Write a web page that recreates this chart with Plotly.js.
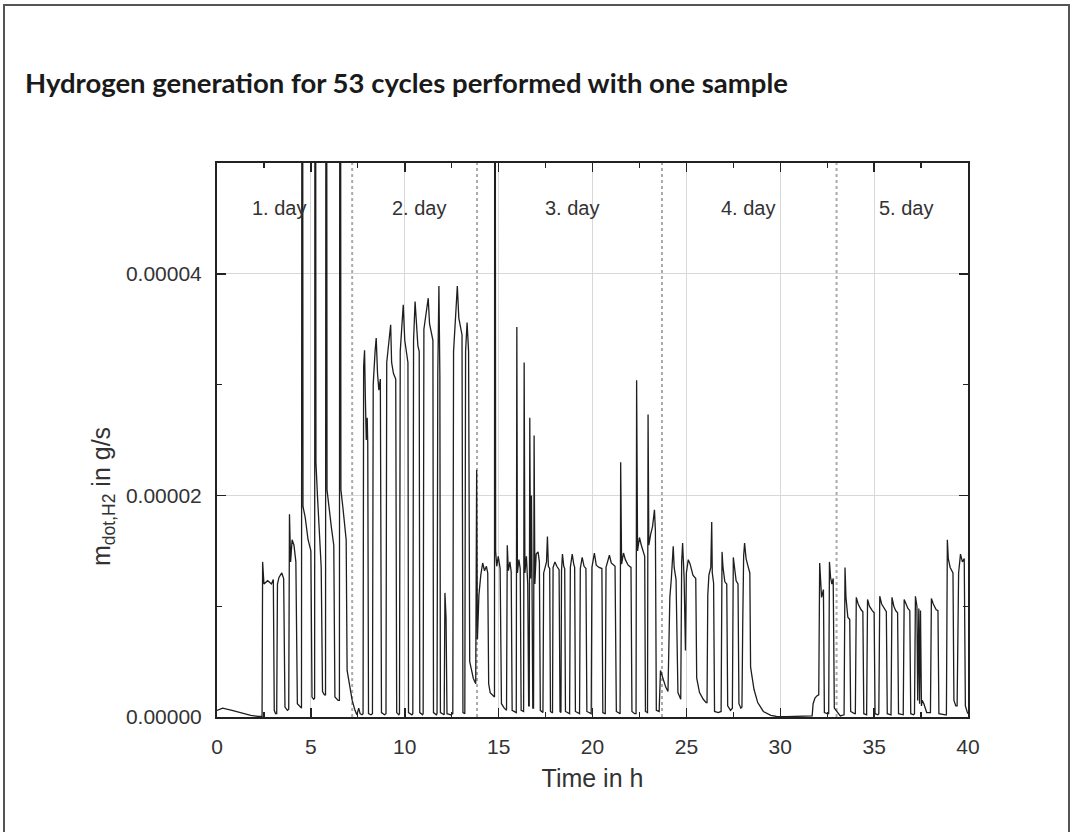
<!DOCTYPE html>
<html>
<head>
<meta charset="utf-8">
<script src="https://cdn.plot.ly/plotly-3.0.1.min.js"></script>
<style>
html,body{margin:0;padding:0;background:#fff;overflow:hidden;width:1071px;height:832px;}
#chart{position:absolute;left:0;top:0;width:1071px;height:832px;}
#frame{position:absolute;left:3px;top:4px;width:1067px;height:840px;border:2px solid #555;box-sizing:border-box;pointer-events:none;z-index:10;}
</style>
</head>
<body>
<div id="chart"></div>
<div id="frame"></div>
<script>
// Time in h and hydrogen rate in g/s, grouped by day
const day1Time = [0, 0.3, 0.8, 1.3, 1.8, 2.2, 2.4,
  2.43, 2.5, 2.7, 2.9, 3.0, 3.05, 3.12,
  3.18, 3.22, 3.3, 3.45, 3.55, 3.62, 3.75,
  3.82, 3.86, 3.92, 4.0, 4.1, 4.2, 4.28, 4.45,
  4.5, 4.54, 4.58, 4.7, 4.85, 5.0, 5.06, 5.15,
  5.2, 5.23, 5.27, 5.35, 5.45, 5.55, 5.62, 5.72,
  5.78, 5.82, 5.86, 5.95, 6.1, 6.22, 6.28, 6.45,
  6.52, 6.56, 6.6, 6.7, 6.8, 6.88, 6.93, 7.05, 7.2, 7.35, 7.45];
const day1Rate = [0.6e-6, 0.8e-6, 0.6e-6, 0.35e-6, 0.15e-6, 0.05e-6, 0.05e-6,
  14.0e-6, 12.0e-6, 12.3e-6, 12.0e-6, 12.4e-6, 0.6e-6, 0.3e-6,
  0.3e-6, 12.0e-6, 12.6e-6, 13.0e-6, 12.5e-6, 0.9e-6, 0.6e-6,
  0.7e-6, 18.3e-6, 14.0e-6, 16.0e-6, 15.5e-6, 14.0e-6, 1.2e-6, 0.9e-6,
  0.8e-6, 120e-6, 19.0e-6, 18.0e-6, 16.0e-6, 15.0e-6, 1.8e-6, 1.6e-6,
  1.7e-6, 120e-6, 23.0e-6, 20.0e-6, 17.0e-6, 13.5e-6, 2.3e-6, 2.0e-6,
  2.0e-6, 120e-6, 20.5e-6, 19.0e-6, 17.0e-6, 15.5e-6, 1.8e-6, 1.5e-6,
  1.5e-6, 120e-6, 20.5e-6, 19.0e-6, 17.5e-6, 16.0e-6, 4.2e-6, 2.8e-6, 1.5e-6, 0.6e-6, 0.2e-6];

const day2Time = [7.55, 7.62, 7.72,
  7.78, 7.81, 7.86, 7.9, 7.95, 8.0, 8.03, 8.07, 8.2,
  8.28, 8.32, 8.42, 8.48, 8.55, 8.62, 8.7, 8.76, 8.92,
  9.0, 9.04, 9.15, 9.25, 9.3, 9.4, 9.52, 9.57, 9.68,
  9.72, 9.76, 9.85, 9.92, 10.0, 10.1, 10.17, 10.2, 10.38,
  10.43, 10.47, 10.55, 10.62, 10.7, 10.77, 10.8, 10.95,
  10.98, 11.02, 11.15, 11.25, 11.32, 11.42, 11.5, 11.53, 11.68,
  11.72, 11.76, 11.82, 11.87, 11.9, 12.05,
  12.1, 12.14, 12.2, 12.25, 12.45,
  12.56, 12.6, 12.72, 12.8, 12.88, 12.95, 13.05, 13.1, 13.17,
  13.2, 13.24, 13.32, 13.4, 13.46, 13.55, 13.65, 13.78];
const day2Rate = [0.8e-6, 0.3e-6, 0.2e-6,
  0.3e-6, 31.6e-6, 33.1e-6, 29.0e-6, 25.0e-6, 27.0e-6, 24.7e-6, 0.3e-6, 0.2e-6,
  0.3e-6, 30.0e-6, 33.0e-6, 34.2e-6, 31.0e-6, 29.5e-6, 30.5e-6, 0.4e-6, 0.2e-6,
  0.3e-6, 32.0e-6, 34.0e-6, 35.4e-6, 32.0e-6, 31.0e-6, 30.5e-6, 0.4e-6, 0.2e-6,
  0.3e-6, 33.0e-6, 35.5e-6, 37.2e-6, 34.0e-6, 32.5e-6, 32.0e-6, 0.4e-6, 0.2e-6,
  0.3e-6, 34.0e-6, 37.5e-6, 35.0e-6, 33.5e-6, 33.0e-6, 0.4e-6, 0.2e-6,
  0.3e-6, 35.0e-6, 36.5e-6, 37.8e-6, 35.5e-6, 34.7e-6, 34.0e-6, 0.4e-6, 0.2e-6,
  0.3e-6, 31.0e-6, 38.9e-6, 30.8e-6, 0.4e-6, 0.2e-6,
  0.2e-6, 11.2e-6, 9.0e-6, 0.3e-6, 0.2e-6,
  0.3e-6, 33.0e-6, 36.5e-6, 38.9e-6, 36.0e-6, 35.2e-6, 34.5e-6, 0.4e-6, 0.3e-6,
  0.3e-6, 33.0e-6, 35.6e-6, 33.0e-6, 5.0e-6, 4.3e-6, 3.5e-6, 3.0e-6];

const day3Time = [13.83, 13.87, 13.95, 14.05, 14.15, 14.25, 14.35, 14.42, 14.47, 14.55, 14.7, 14.78,
  14.8, 14.84, 14.9, 14.98, 15.08, 15.15, 15.3,
  15.42, 15.46, 15.52, 15.6, 15.67, 15.72, 15.88,
  15.94, 15.97, 16.0, 16.08, 16.15, 16.2, 16.3,
  16.33, 16.36, 16.4, 16.48, 16.55, 16.6,
  16.63, 16.66, 16.7, 16.75, 16.78, 16.82,
  16.86, 16.89, 16.93, 17.0, 17.1, 17.17, 17.22, 17.32,
  17.36, 17.4, 17.55, 17.6, 17.65, 17.72, 17.76, 17.84,
  17.87, 17.9, 18.0, 18.1, 18.22, 18.27,
  18.32, 18.35, 18.4, 18.47, 18.52, 18.56, 18.72,
  18.78, 18.82, 18.92, 19.0, 19.05, 19.09, 19.25,
  19.31, 19.35, 19.45, 19.55, 19.65, 19.7, 19.88,
  19.93, 19.97, 20.1, 20.2, 20.35, 20.5, 20.55, 20.65,
  20.68, 20.72, 20.9, 21.0, 21.2, 21.27, 21.42,
  21.47, 21.5, 21.55, 21.65, 21.75, 21.9, 22.05, 22.1, 22.25,
  22.32, 22.35, 22.4, 22.5, 22.6, 22.7, 22.78, 22.82, 22.9,
  22.93, 22.96, 23.0, 23.1, 23.2, 23.3, 23.35, 23.4, 23.55];
const day3Rate = [22.3e-6, 7.0e-6, 11.0e-6, 12.8e-6, 13.9e-6, 13.2e-6, 13.6e-6, 13.0e-6, 3.0e-6, 2.2e-6, 1.9e-6, 1.8e-6,
  120e-6, 15.0e-6, 13.6e-6, 14.5e-6, 13.4e-6, 1.2e-6, 0.8e-6,
  0.6e-6, 15.5e-6, 13.2e-6, 14.0e-6, 13.1e-6, 0.6e-6, 0.4e-6,
  0.4e-6, 35.2e-6, 13.0e-6, 14.2e-6, 13.4e-6, 0.6e-6, 0.5e-6,
  0.5e-6, 32.0e-6, 13.0e-6, 14.5e-6, 12.0e-6, 1.0e-6,
  1.0e-6, 27.0e-6, 12.5e-6, 20.0e-6, 11.5e-6, 0.8e-6,
  0.8e-6, 25.4e-6, 12.0e-6, 14.7e-6, 14.9e-6, 14.0e-6, 0.6e-6, 0.4e-6,
  0.4e-6, 13.0e-6, 14.0e-6, 16.3e-6, 13.6e-6, 13.4e-6, 0.5e-6, 0.4e-6,
  0.4e-6, 13.5e-6, 14.0e-6, 13.6e-6, 13.3e-6, 0.5e-6,
  0.4e-6, 13.2e-6, 14.7e-6, 13.6e-6, 13.4e-6, 0.5e-6, 0.3e-6,
  0.3e-6, 13.5e-6, 14.7e-6, 13.8e-6, 13.5e-6, 0.5e-6, 0.3e-6,
  0.3e-6, 13.4e-6, 14.4e-6, 13.6e-6, 13.4e-6, 0.5e-6, 0.3e-6,
  0.3e-6, 13.5e-6, 14.8e-6, 13.7e-6, 13.5e-6, 13.4e-6, 0.4e-6, 0.3e-6,
  0.3e-6, 13.5e-6, 14.6e-6, 13.9e-6, 13.6e-6, 0.5e-6, 0.3e-6,
  0.3e-6, 23.0e-6, 13.8e-6, 14.8e-6, 14.2e-6, 13.7e-6, 13.5e-6, 0.5e-6, 0.3e-6,
  0.3e-6, 30.4e-6, 15.0e-6, 16.2e-6, 15.5e-6, 14.8e-6, 14.5e-6, 0.5e-6, 0.4e-6,
  0.4e-6, 27.3e-6, 15.5e-6, 16.5e-6, 17.2e-6, 18.7e-6, 16.8e-6, 0.6e-6, 0.5e-6];

const day4Time = [23.62, 23.75, 23.9, 24.02, 24.05, 24.12, 24.2, 24.3, 24.35, 24.45, 24.55, 24.65,
  24.7, 24.75, 24.8, 24.88, 24.95, 25.0, 25.1, 25.2, 25.35, 25.5, 25.55, 25.7, 25.9, 26.05,
  26.1, 26.14, 26.2, 26.3, 26.35, 26.38, 26.45, 26.5, 26.7,
  26.85, 26.9, 26.95, 27.05, 27.15, 27.2, 27.35,
  27.45, 27.5, 27.55, 27.65, 27.75, 27.8, 27.9,
  27.96, 28.0, 28.05, 28.1, 28.18, 28.3, 28.38, 28.42, 28.6, 28.8, 29.1, 29.5, 29.8, 30.3, 30.8, 31.3, 31.7];
const day4Rate = [4.2e-6, 3.5e-6, 2.7e-6, 2.3e-6, 6.0e-6, 10.8e-6, 12.5e-6, 15.4e-6, 13.5e-6, 12.4e-6, 2.2e-6, 1.8e-6,
  1.6e-6, 14.0e-6, 15.7e-6, 12.5e-6, 6.0e-6, 13.0e-6, 14.2e-6, 13.8e-6, 12.8e-6, 12.5e-6, 3.5e-6, 2.2e-6, 1.6e-6, 1.3e-6,
  1.3e-6, 11.0e-6, 12.8e-6, 13.5e-6, 17.6e-6, 13.0e-6, 12.1e-6, 0.5e-6, 0.4e-6,
  0.5e-6, 14.9e-6, 13.5e-6, 12.2e-6, 12.0e-6, 1.0e-6, 0.6e-6,
  0.8e-6, 14.4e-6, 13.5e-6, 12.3e-6, 12.0e-6, 1.2e-6, 0.8e-6,
  0.9e-6, 8.1e-6, 14.5e-6, 15.7e-6, 14.3e-6, 13.5e-6, 13.0e-6, 4.5e-6, 2.5e-6, 1.3e-6, 0.5e-6, 0.15e-6, 0.05e-6, 0.03e-6, 0.05e-6, 0.03e-6, 0.1e-6];

const day5Time = [31.75, 31.85, 31.95, 32.05, 32.1, 32.15, 32.2, 32.3, 32.35, 32.5,
  32.58, 32.62, 32.68, 32.75, 32.82, 32.88, 33.0, 33.2,
  33.4, 33.45, 33.5, 33.6, 33.7, 33.75, 33.95,
  34.0, 34.05, 34.15, 34.3, 34.4, 34.45, 34.55,
  34.6, 34.65, 34.75, 34.9, 35.0, 35.05, 35.2,
  35.25, 35.3, 35.4, 35.55, 35.65, 35.7, 35.85,
  35.9, 35.95, 36.05, 36.15, 36.25, 36.3, 36.5,
  36.55, 36.6, 36.7, 36.8, 36.9, 36.95, 37.1,
  37.15, 37.2, 37.28, 37.32, 37.38, 37.42, 37.47, 37.52, 37.56, 37.65, 37.8,
  38.0, 38.05, 38.15, 38.3, 38.4, 38.45, 38.8,
  38.85, 38.9, 38.95, 39.05, 39.2, 39.25, 39.35,
  39.42, 39.5, 39.6, 39.7, 39.8, 39.86, 39.95, 40.0];
const day5Rate = [1.2e-6, 1.7e-6, 1.9e-6, 2.0e-6, 13.9e-6, 12.0e-6, 10.8e-6, 11.5e-6, 0.4e-6, 0.3e-6,
  0.3e-6, 14.0e-6, 12.6e-6, 12.0e-6, 12.5e-6, 0.8e-6, 0.5e-6, 0.1e-6,
  0.2e-6, 13.5e-6, 10.8e-6, 9.0e-6, 8.8e-6, 0.5e-6, 0.3e-6,
  0.3e-6, 10.8e-6, 10.2e-6, 9.7e-6, 9.5e-6, 0.3e-6, 0.2e-6,
  0.2e-6, 10.6e-6, 10.0e-6, 9.6e-6, 9.4e-6, 0.3e-6, 0.2e-6,
  0.3e-6, 10.9e-6, 10.2e-6, 9.7e-6, 9.5e-6, 0.3e-6, 0.2e-6,
  0.2e-6, 10.8e-6, 10.0e-6, 9.6e-6, 9.4e-6, 0.3e-6, 0.2e-6,
  0.2e-6, 10.6e-6, 10.1e-6, 9.8e-6, 9.6e-6, 0.3e-6, 0.2e-6,
  0.3e-6, 10.9e-6, 10.0e-6, 1.5e-6, 9.8e-6, 1.2e-6, 9.6e-6, 1.0e-6, 1.5e-6, 1.2e-6, 0.4e-6,
  0.4e-6, 10.7e-6, 10.2e-6, 9.7e-6, 9.6e-6, 0.3e-6, 0.2e-6,
  0.2e-6, 16.0e-6, 14.3e-6, 13.5e-6, 13.0e-6, 1.5e-6, 1.0e-6,
  1.0e-6, 13.0e-6, 14.7e-6, 14.0e-6, 14.3e-6, 1.0e-6, 0.5e-6, 0.3e-6];

// Day separators and labels
const dayBounds = [7.2, 13.85, 23.7, 33.0];
const dayLabels = ['1. day', '2. day', '3. day', '4. day', '5. day'];
const dayLabelX = [3.3, 10.76, 18.9, 28.3, 36.7];
const dayLabelY = 4.59e-5;

const xTickVals = [0, 5, 10, 15, 20, 25, 30, 35, 40];
const yTickVals = [0, 0.00002, 0.00004];

const timeAll = [].concat(day1Time, day2Time, day3Time, day4Time, day5Time);
const rateAll = [].concat(day1Rate, day2Rate, day3Rate, day4Rate, day5Rate);

const axisFont = {family: 'Liberation Sans, Arial, sans-serif', size: 21, color: '#333'};

const trace = {
  x: timeAll, y: rateAll, type: 'scatter', mode: 'lines',
  line: {color: '#1e1e1e', width: 1.3},
  hoverinfo: 'skip', showlegend: false
};

const shapes = dayBounds.map(b => ({
  type: 'line', xref: 'x', yref: 'paper', x0: b, x1: b, y0: 0, y1: 1,
  line: {color: '#aaa', width: 2, dash: '3px,3px'}, layer: 'below'
}));

const annotations = dayLabels.map((t, i) => ({
  text: t, x: dayLabelX[i], y: dayLabelY, xref: 'x', yref: 'y',
  showarrow: false, font: {family: 'Liberation Sans, Arial, sans-serif', size: 20, color: '#333'}
}));

// y-axis title placed as a rotated annotation (centred lower than the plot middle, as in the reference)
annotations.push({
  text: 'm<sub>dot,H2</sub> in g/s', textangle: -90,
  xref: 'paper', yref: 'paper', x: (103 - 217) / 751, y: (717 - 497) / 554,
  xanchor: 'center', yanchor: 'middle', showarrow: false,
  font: {family: 'Liberation Sans, Arial, sans-serif', size: 25, color: '#333'}
});

const layout = {
  width: 1071, height: 832,
  margin: {l: 217, r: 103, t: 163, b: 115, pad: 0},
  paper_bgcolor: '#fff', plot_bgcolor: '#fff',
  title: {
    text: '<b>Hydrogen generation for 53 cycles performed with one sample</b>',
    font: {family: 'Lato, Open Sans, sans-serif', size: 27.5, color: '#1a1a1a'},
    xref: 'container', yref: 'container',
    x: 25 / 1071, xanchor: 'left', y: 1 - 83 / 832, yanchor: 'middle'
  },
  xaxis: {
    range: [0, 40], tickvals: xTickVals, ticks: 'inside', ticklen: 9, tickwidth: 1.5, tickcolor: '#222',
    showline: true, linecolor: '#222', linewidth: 2, mirror: 'ticks',
    showgrid: true, gridcolor: '#d8d8d8', gridwidth: 1, zeroline: false,
    minor: {dtick: 2.5, tick0: 0, ticks: 'inside', ticklen: 5, tickwidth: 1.2, tickcolor: '#222', showgrid: false},
    tickfont: axisFont, ticklabelstandoff: 10,
    title: {text: 'Time in h', font: {family: 'Liberation Sans, Arial, sans-serif', size: 25, color: '#333'}, standoff: 12},
    fixedrange: true
  },
  yaxis: {
    range: [0, 0.00005], tickvals: yTickVals, tickformat: '.5f', ticks: 'inside', ticklen: 9, tickwidth: 1.5, tickcolor: '#222',
    showline: true, linecolor: '#222', linewidth: 2, mirror: 'ticks',
    showgrid: true, gridcolor: '#d8d8d8', gridwidth: 1, zeroline: false,
    minor: {dtick: 0.00001, tick0: 0, ticks: 'inside', ticklen: 5, tickwidth: 1.2, tickcolor: '#222', showgrid: false},
    tickfont: axisFont, ticklabelstandoff: 9,
    fixedrange: true
  },
  shapes: shapes,
  annotations: annotations
};

Plotly.newPlot('chart', [trace], layout, {displayModeBar: false, staticPlot: true});
</script>
</body>
</html>
